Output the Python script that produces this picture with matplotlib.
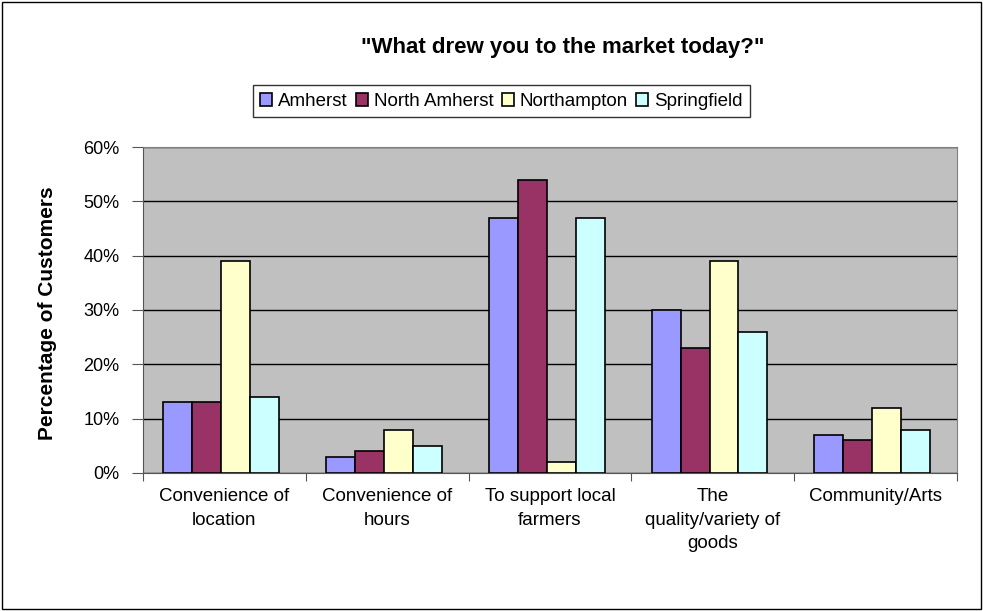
import matplotlib
matplotlib.use("Agg")
import matplotlib.pyplot as plt
import numpy as np
from matplotlib.patches import Rectangle

plt.rcParams["font.family"] = ["Liberation Sans", "DejaVu Sans"]

categories = ["Convenience of\nlocation", "Convenience of\nhours", "To support local\nfarmers",
              "The\nquality/variety of\ngoods", "Community/Arts"]
series_names = ["Amherst", "North Amherst", "Northampton", "Springfield"]
amherst = [13, 3, 47, 30, 7]
north_amherst = [13, 4, 54, 23, 6]
northampton = [39, 8, 2, 39, 12]
springfield = [14, 5, 47, 26, 8]
colors = ["#9999FF", "#993366", "#FFFFCC", "#CCFFFF"]

fig = plt.figure(figsize=(9.83, 6.11), dpi=100)
ax = fig.add_axes([0.1455, 0.2259, 0.828, 0.5335])
ax.set_facecolor("#C0C0C0")

x = np.arange(len(categories))
w = 0.178
for i, (vals, name) in enumerate(zip([amherst, north_amherst, northampton, springfield], series_names)):
    ax.bar(x - 1.5 * w + i * w - 0.02, vals, width=w, color=colors[i], edgecolor="black",
           linewidth=1.2, label=name, zorder=3)

ax.set_xlim(-0.5, 4.5)
ax.set_ylim(0, 60)
ax.set_yticks(range(0, 61, 10))
ax.set_yticklabels([f"{v}%" for v in range(0, 61, 10)], fontsize=13)
ax.yaxis.grid(True, color="black", linewidth=1, zorder=0)
ax.set_axisbelow(True)

ax.set_xticks(np.arange(-0.5, 5, 1))
ax.set_xticklabels([])
ax.set_xticks(x, minor=True)
ax.set_xticklabels(categories, minor=True, fontsize=13.5, linespacing=1.5)
ax.tick_params(axis="x", which="minor", length=0, pad=11)
ax.tick_params(axis="x", which="major", length=6, color="#555555")
ax.tick_params(axis="y", length=8, color="#555555", pad=9)

for side in ["top", "right"]:
    ax.spines[side].set_color("#808080")
for side in ["left", "bottom"]:
    ax.spines[side].set_color("#555555")

fig.text(48 / 983, 0.488, "Percentage of Customers", rotation=90, ha="center", va="center",
         fontsize=15, fontweight="bold")

fig.text(0.572, 0.923, "\"What drew you to the market today?\"", ha="center", va="center",
         fontsize=16, fontweight="bold")

leg = fig.legend(loc="center", bbox_to_anchor=(0.51, 0.834), ncol=4, fontsize=13.5,
                 frameon=True, fancybox=False, edgecolor="black", handlelength=0.65,
                 handleheight=0.65, handletextpad=0.3, columnspacing=0.45, borderpad=0.4)
leg.get_frame().set_linewidth(1)

fig.patches.append(Rectangle((0.002, 0.003), 0.996, 0.994, transform=fig.transFigure,
                             fill=False, edgecolor="black", linewidth=1))

fig.savefig("out.png", dpi=100)
